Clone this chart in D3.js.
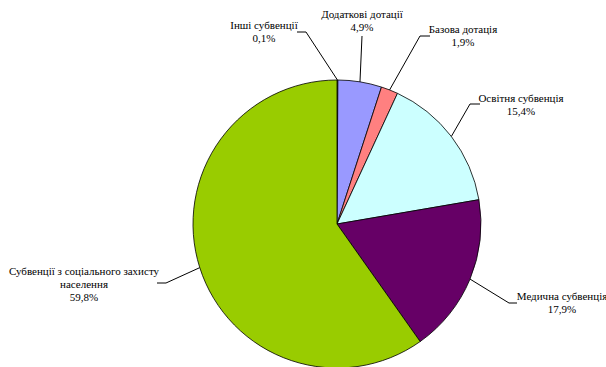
<!DOCTYPE html>
<html>
<head>
<meta charset="utf-8">
<script src="https://cdn.jsdelivr.net/npm/d3@7"></script>
<style>
  body { margin: 0; background: #fff; }
</style>
</head>
<body>
<div id="chart"></div>
<script>
// дані діаграми (за годинниковою стрілкою від верху)
const categories = ["Інші субвенції", "Додаткові дотації", "Базова дотація", "Освітня субвенція", "Медична субвенція", "Субвенції з соціального захисту населення"];
const values = [0.1, 4.9, 1.9, 15.4, 17.9, 59.8];
const valueLabels = ["0,1%", "4,9%", "1,9%", "15,4%", "17,9%", "59,8%"];
const colors = ["#99CC00", "#9999FF", "#FF8080", "#CCFFFF", "#660066", "#99CC00"];

// розташування підписів: центр, базова лінія, злам виноски
const labelLayout = [
    { x: 264, y: 29, elbow: [[297, 32], [306, 32]] },
    { x: 362, y: 18, elbow: [[362, 36]] },
    { x: 463, y: 33, elbow: [[430, 36], [420, 36]] },
    { x: 521, y: 102, elbow: [[480, 104], [470, 104]] },
    { x: 562, y: 300, elbow: [[517, 303], [509, 303]] },
    { x: 84, y: 275, elbow: [[157, 283], [166, 283]] }
];
// перенос довгої назви
const labelLines = [
    ["Інші субвенції"], ["Додаткові дотації"], ["Базова дотація"],
    ["Освітня субвенція"], ["Медична субвенція"],
    ["Субвенції з соціального захисту", "населення"]
];

const width = 606, height = 367;
const cx = 337, cy = 224, radius = 144;
const fontFamily = "'Liberation Serif', 'Times New Roman', Tinos, 'DejaVu Serif', serif";

const svg = d3.select("#chart").append("svg")
    .attr("width", width)
    .attr("height", height);

const g = svg.append("g").attr("transform", `translate(${cx},${cy})`);

const pie = d3.pie().sort(null).value(d => d);
const arcs = pie(values);
const arc = d3.arc().innerRadius(0).outerRadius(radius);

g.selectAll("path.slice")
    .data(arcs)
    .enter()
    .append("path")
    .attr("class", "slice")
    .attr("d", arc)
    .attr("fill", (d, i) => colors[i])
    .attr("stroke", "#000")
    .attr("stroke-width", 0.8);

// виноски і підписи
arcs.forEach((d, i) => {
    const mid = (d.startAngle + d.endAngle) / 2;
    const px = cx + radius * Math.sin(mid);
    const py = cy - radius * Math.cos(mid);
    const lay = labelLayout[i];
    const pts = lay.elbow.concat([[px, py]]);
    svg.append("path")
        .attr("d", d3.line()(pts))
        .attr("fill", "none")
        .attr("stroke", "#000")
        .attr("stroke-width", 1);

    const t = svg.append("text")
        .attr("text-anchor", "middle")
        .attr("font-family", fontFamily)
        .attr("font-size", "11px")
        .attr("fill", "#000")
        .attr("x", lay.x)
        .attr("y", lay.y);
    labelLines[i].concat([valueLabels[i]]).forEach((s, k) => {
        t.append("tspan")
            .attr("x", lay.x)
            .attr("dy", k === 0 ? 0 : 13)
            .text(s);
    });
});
</script>
</body>
</html>
